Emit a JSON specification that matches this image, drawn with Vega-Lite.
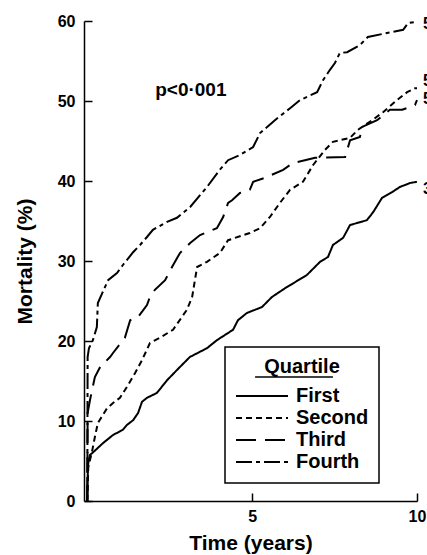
{
  "$schema": "https://vega.github.io/schema/vega-lite/v6.json",
  "width": 333,
  "height": 480,
  "autosize": {"type": "none"},
  "padding": {"left": 84, "top": 21, "right": 10, "bottom": 54},
  "background": "white",
  "config": {
    "view": {"stroke": null},
    "font": "Liberation Sans",
    "legend": {"strokeWidth": 1.5}
  },
  "datasets": {
    "curves": [
      {"q":"First","t":0,"v":0},{"q":"First","t":0.01,"v":3},{"q":"First","t":0.03,"v":4.75},{"q":"First","t":0.08,"v":5.75},{"q":"First","t":0.18,"v":6.1},{"q":"First","t":0.48,"v":7.25},{"q":"First","t":0.78,"v":8.25},{"q":"First","t":1.08,"v":8.9},{"q":"First","t":1.2,"v":9.5},{"q":"First","t":1.39,"v":10.1},{"q":"First","t":1.54,"v":11},{"q":"First","t":1.66,"v":12.4},{"q":"First","t":1.81,"v":12.9},{"q":"First","t":2.11,"v":13.5},{"q":"First","t":2.42,"v":15.1},{"q":"First","t":2.75,"v":16.5},{"q":"First","t":3.11,"v":18},{"q":"First","t":3.63,"v":19.1},{"q":"First","t":3.93,"v":20.1},{"q":"First","t":4.42,"v":21.4},{"q":"First","t":4.57,"v":22.6},{"q":"First","t":4.84,"v":23.5},{"q":"First","t":5.3,"v":24.25},{"q":"First","t":5.6,"v":25.5},{"q":"First","t":6.0,"v":26.6},{"q":"First","t":6.66,"v":28.25},{"q":"First","t":7.06,"v":29.9},{"q":"First","t":7.3,"v":30.5},{"q":"First","t":7.45,"v":32},{"q":"First","t":7.76,"v":32.9},{"q":"First","t":7.97,"v":34.5},{"q":"First","t":8.48,"v":35.1},{"q":"First","t":8.67,"v":36.1},{"q":"First","t":8.94,"v":37.9},{"q":"First","t":9.24,"v":38.6},{"q":"First","t":9.48,"v":39.25},{"q":"First","t":9.79,"v":39.75},{"q":"First","t":10,"v":39.9},
      {"q":"Second","t":0,"v":0},{"q":"Second","t":0.01,"v":1.4},{"q":"Second","t":0.03,"v":4.25},{"q":"Second","t":0.14,"v":6.1},{"q":"Second","t":0.23,"v":8},{"q":"Second","t":0.32,"v":9.75},{"q":"Second","t":0.6,"v":11.6},{"q":"Second","t":0.78,"v":12.25},{"q":"Second","t":0.99,"v":12.9},{"q":"Second","t":1.2,"v":14.25},{"q":"Second","t":1.45,"v":16},{"q":"Second","t":1.66,"v":17.6},{"q":"Second","t":1.9,"v":19.75},{"q":"Second","t":2.2,"v":20.4},{"q":"Second","t":2.6,"v":21.4},{"q":"Second","t":3.02,"v":23.9},{"q":"Second","t":3.18,"v":25.5},{"q":"Second","t":3.33,"v":29.25},{"q":"Second","t":3.63,"v":29.9},{"q":"Second","t":4.02,"v":31},{"q":"Second","t":4.27,"v":32.6},{"q":"Second","t":4.93,"v":33.5},{"q":"Second","t":5.24,"v":34.1},{"q":"Second","t":5.54,"v":35.5},{"q":"Second","t":5.84,"v":37.25},{"q":"Second","t":6.15,"v":38.9},{"q":"Second","t":6.54,"v":39.9},{"q":"Second","t":6.85,"v":42},{"q":"Second","t":7.21,"v":43.9},{"q":"Second","t":7.45,"v":44.9},{"q":"Second","t":7.97,"v":45.4},{"q":"Second","t":8.21,"v":46.4},{"q":"Second","t":8.64,"v":47.6},{"q":"Second","t":8.97,"v":48.6},{"q":"Second","t":9.39,"v":50.1},{"q":"Second","t":9.7,"v":51.1},{"q":"Second","t":9.94,"v":51.6},{"q":"Second","t":10,"v":51.6},
      {"q":"Third","t":0,"v":0},{"q":"Third","t":0.01,"v":11},{"q":"Third","t":0.08,"v":12.6},{"q":"Third","t":0.23,"v":15.5},{"q":"Third","t":0.39,"v":16.75},{"q":"Third","t":0.69,"v":18},{"q":"Third","t":0.78,"v":18.5},{"q":"Third","t":1.14,"v":20.4},{"q":"Third","t":1.3,"v":22.6},{"q":"Third","t":1.54,"v":23},{"q":"Third","t":1.81,"v":24.5},{"q":"Third","t":1.9,"v":25.5},{"q":"Third","t":2.05,"v":26.4},{"q":"Third","t":2.36,"v":27.6},{"q":"Third","t":2.57,"v":29.25},{"q":"Third","t":2.81,"v":31},{"q":"Third","t":3.12,"v":32.25},{"q":"Third","t":3.42,"v":33.25},{"q":"Third","t":3.93,"v":34.1},{"q":"Third","t":4.12,"v":35.5},{"q":"Third","t":4.27,"v":37.25},{"q":"Third","t":4.39,"v":37.6},{"q":"Third","t":4.63,"v":38.5},{"q":"Third","t":4.93,"v":38.9},{"q":"Third","t":5.03,"v":39.9},{"q":"Third","t":5.39,"v":40.4},{"q":"Third","t":5.94,"v":41.4},{"q":"Third","t":6.24,"v":42.25},{"q":"Third","t":6.91,"v":42.9},{"q":"Third","t":7.82,"v":43},{"q":"Third","t":7.97,"v":45.1},{"q":"Third","t":8.27,"v":45.5},{"q":"Third","t":8.33,"v":46.75},{"q":"Third","t":8.79,"v":47.6},{"q":"Third","t":9.18,"v":48.9},{"q":"Third","t":9.55,"v":48.9},{"q":"Third","t":9.94,"v":49.5},{"q":"Third","t":10,"v":50.1},
      {"q":"Fourth","t":0,"v":0},{"q":"Fourth","t":0.01,"v":18},{"q":"Fourth","t":0.05,"v":19.1},{"q":"Fourth","t":0.17,"v":20.1},{"q":"Fourth","t":0.29,"v":21.75},{"q":"Fourth","t":0.32,"v":24.75},{"q":"Fourth","t":0.63,"v":27.6},{"q":"Fourth","t":0.9,"v":28.5},{"q":"Fourth","t":1.08,"v":29.5},{"q":"Fourth","t":1.39,"v":31.1},{"q":"Fourth","t":1.6,"v":32},{"q":"Fourth","t":1.81,"v":33},{"q":"Fourth","t":1.99,"v":33.9},{"q":"Fourth","t":2.42,"v":34.9},{"q":"Fourth","t":2.72,"v":35.4},{"q":"Fourth","t":3.12,"v":36.75},{"q":"Fourth","t":3.63,"v":39.25},{"q":"Fourth","t":4.02,"v":41.4},{"q":"Fourth","t":4.27,"v":42.6},{"q":"Fourth","t":4.63,"v":43.25},{"q":"Fourth","t":5.03,"v":44.25},{"q":"Fourth","t":5.24,"v":46},{"q":"Fourth","t":5.69,"v":47.6},{"q":"Fourth","t":6.15,"v":49.1},{"q":"Fourth","t":6.45,"v":50.1},{"q":"Fourth","t":6.97,"v":51.1},{"q":"Fourth","t":7.15,"v":52.6},{"q":"Fourth","t":7.36,"v":53.9},{"q":"Fourth","t":7.51,"v":54.75},{"q":"Fourth","t":7.66,"v":56},{"q":"Fourth","t":7.88,"v":56.1},{"q":"Fourth","t":8.27,"v":57},{"q":"Fourth","t":8.51,"v":58},{"q":"Fourth","t":9.09,"v":58.5},{"q":"Fourth","t":9.58,"v":58.9},{"q":"Fourth","t":9.73,"v":59.75},{"q":"Fourth","t":10,"v":59.9}
    ],
    "notes": [
      {"label": "p<0·001", "t": 3.14, "v": 51.4}
    ],
    "ends": [
      {"label": "59", "t": 10.18, "v": 59.6},
      {"label": "52", "t": 10.18, "v": 52.5},
      {"label": "50", "t": 10.18, "v": 50.3},
      {"label": "39", "t": 10.18, "v": 39.0}
    ]
  },
  "layer": [
    {
      "data": {"name": "curves"},
      "mark": {"type": "line", "color": "black", "strokeWidth": 2},
      "encoding": {
        "x": {
          "field": "t", "type": "quantitative",
          "scale": {"domain": [-0.1, 10], "nice": false, "zero": false},
          "axis": {
            "values": [5, 10], "title": "Time (years)", "grid": false,
            "tickSize": -8, "tickWidth": 1.5, "tickColor": "black",
            "domainColor": "black", "domainWidth": 1.5,
            "labelPadding": 15, "labelFontSize": 16, "labelFontWeight": "bold", "labelColor": "black", "labelFlush": false,
            "titleFontSize": 21, "titleFontWeight": "bold", "titleColor": "black", "titlePadding": 8
          }
        },
        "y": {
          "field": "v", "type": "quantitative",
          "scale": {"domain": [0, 60], "nice": false},
          "axis": {
            "values": [0, 10, 20, 30, 40, 50, 60], "title": "Mortality (%)", "grid": false,
            "tickSize": -8, "tickWidth": 1.5, "tickColor": "black",
            "domainColor": "black", "domainWidth": 1.5,
            "labelPadding": 17, "labelFontSize": 16, "labelFontWeight": "bold", "labelColor": "black", "labelFlush": false,
            "titleFontSize": 21, "titleFontWeight": "bold", "titleColor": "black", "titlePadding": 22
          }
        },
        "strokeDash": {
          "field": "q", "type": "nominal",
          "scale": {"domain": ["First", "Second", "Third", "Fourth"], "range": [[1, 0], [6, 4], [20, 9], [16, 4, 4, 4]]},
          "legend": {
            "orient": "none", "legendX": 141, "legendY": 326,
            "title": "Quartile", "titleFontSize": 20, "titleFontWeight": "bold", "titleColor": "black",
            "titleAnchor": "middle", "titlePadding": 8,
            "labelFontSize": 20, "labelFontWeight": "bold", "labelColor": "black", "labelOffset": 7,
            "symbolType": "stroke", "symbolSize": 2704, "symbolStrokeWidth": 2, "symbolStrokeColor": "black",
            "clipHeight": 22, "rowPadding": 0, "padding": 10, "strokeColor": "black"
          }
        }
      }
    },
    {
      "data": {"name": "notes"},
      "mark": {"type": "text", "fontSize": 19, "fontWeight": "bold", "color": "black", "baseline": "middle", "align": "center"},
      "encoding": {
        "x": {"field": "t", "type": "quantitative"},
        "y": {"field": "v", "type": "quantitative"},
        "text": {"field": "label"}
      }
    },
    {
      "data": {"name": "ends"},
      "mark": {"type": "text", "fontSize": 16, "fontWeight": "bold", "color": "black", "baseline": "middle", "align": "left"},
      "encoding": {
        "x": {"field": "t", "type": "quantitative"},
        "y": {"field": "v", "type": "quantitative"},
        "text": {"field": "label"}
      }
    },
    {
      "data": {"values": [{}]},
      "mark": {"type": "rule", "color": "black", "strokeWidth": 1.5},
      "encoding": {
        "x": {"datum": 5.09},
        "x2": {"datum": 7.45},
        "y": {"datum": 15.5}
      }
    }
  ]
}
